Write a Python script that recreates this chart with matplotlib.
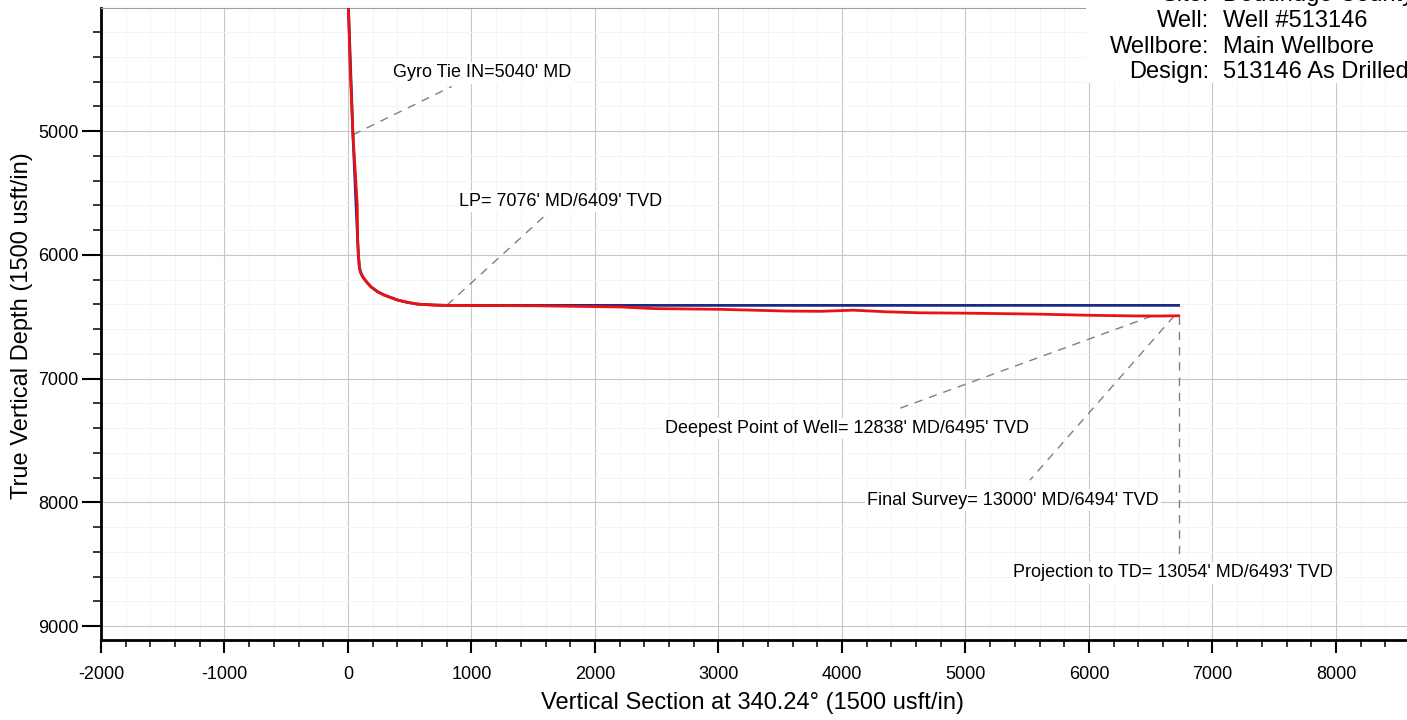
import matplotlib
matplotlib.use('Agg')
import matplotlib.pyplot as plt
from matplotlib.ticker import MultipleLocator
from matplotlib.patches import Rectangle

plt.rcParams['font.family'] = ['Liberation Sans', 'DejaVu Sans']
plt.rcParams['axes.unicode_minus'] = False

# actual well path (red): vertical section vs true vertical depth
vs_actual = [0, 18, 40, 57, 75, 78, 84, 92, 100, 119, 149, 186, 240, 294, 402, 483, 564, 699, 800,
             1500, 2207, 2474, 3015, 3554, 3824, 4091, 4364, 4632, 5010, 5547, 6006, 6357, 6560, 6726]
tvd_actual = [3900, 4500, 5030, 5300, 5600, 5880, 6000, 6097, 6137, 6178, 6218, 6259, 6299, 6326, 6366, 6385, 6399, 6407, 6409,
              6412, 6422, 6435, 6441, 6455, 6457, 6448, 6461, 6469, 6472, 6479, 6489, 6494, 6495, 6493]

# plan (blue)
vs_plan = [0, 40, 78, 84, 92, 100, 119, 149, 186, 240, 294, 402, 483, 564, 699, 800, 6726]
tvd_plan = [3900, 5030, 5880, 6000, 6097, 6137, 6178, 6218, 6259, 6299, 6326, 6366, 6385, 6399, 6406, 6409, 6409]

x_ticks = [-2000, -1000, 0, 1000, 2000, 3000, 4000, 5000, 6000, 7000, 8000]
y_ticks = [5000, 6000, 7000, 8000, 9000]

# annotations: label, point on well, label end of leader, text anchor
notes = [
    ("Gyro Tie IN=5040' MD", (40, 5030), (840, 4640), (364, 4531)),
    ("LP= 7076' MD/6409' TVD", (802, 6407), (1600, 5679), (896, 5571)),
    ("Deepest Point of Well= 12838' MD/6495' TVD", (6510, 6495), (4429, 7255), (2567, 7404)),
    ("Final Survey= 13000' MD/6494' TVD", (6690, 6494), (5522, 7821), (4202, 7983)),
    ("Projection to TD= 13054' MD/6493' TVD", (6726, 6493), (6726, 8470), (5388, 8571)),
]

info_keys = ["Site:", "Well:", "Wellbore:", "Design:"]
info_vals = ["Doddridge County", "Well #513146", "Main Wellbore", "513146 As Drilled"]

W, H = 1407, 720
fig = plt.figure(figsize=(W / 100, H / 100), dpi=100)
ax = fig.add_axes([101 / W, 80 / H, 1306 / W, 632 / H])

ax.plot(vs_plan, tvd_plan, color='#1c2a86', linewidth=2, zorder=3)
ax.plot(vs_actual, tvd_actual, color='#ee1111', linewidth=2, zorder=4)

for label, pt, end, txt in notes:
    ax.plot([pt[0], end[0]], [pt[1], end[1]], color='#808080', linewidth=1,
            dashes=(6, 5), zorder=2)
    ax.text(txt[0], txt[1], label, fontsize=13, ha='left', va='center', zorder=5,
            bbox=dict(facecolor='white', edgecolor='none', pad=1.5))

ax.set_xlim(-2000, 8575)
ax.set_ylim(9113, 4006)
ax.set_xticks(x_ticks)
ax.set_yticks(y_ticks)
ax.xaxis.set_minor_locator(MultipleLocator(200))
ax.yaxis.set_minor_locator(MultipleLocator(200))

ax.grid(which='major', color='#c6c6c6', linewidth=0.8, zorder=0)
ax.grid(which='minor', color='#f2f2f2', linewidth=0.6, zorder=0)
ax.set_axisbelow(True)

ax.tick_params(axis='x', which='major', direction='out', length=9.5, width=1.5, pad=9, labelsize=13)
ax.tick_params(axis='x', which='minor', direction='out', length=5, width=1.1)
ax.tick_params(axis='y', which='major', direction='out', length=14, width=1.5, pad=2, labelsize=13)
ax.tick_params(axis='y', which='minor', direction='out', length=6, width=1.1)

ax.spines['right'].set_visible(False)
ax.spines['top'].set_color('#a0a0a0')
ax.spines['top'].set_linewidth(0.8)
ax.spines['left'].set_linewidth(2)
ax.spines['bottom'].set_linewidth(2)

ax.set_xlabel('Vertical Section at 340.24° (1500 usft/in)', fontsize=17)
ax.set_ylabel('True Vertical Depth (1500 usft/in)', fontsize=17)
ax.xaxis.set_label_coords(0.499, -0.0997)
ax.xaxis.label.set_va('center')
ax.yaxis.set_label_coords(-0.0605, 0.497)
ax.yaxis.label.set_va('center')

# info block in the top right corner (top row is cut by the page edge, as in the scan)
fig.patches.append(Rectangle((1086 / W, 1 - 83 / H), 1, 83 / H, transform=fig.transFigure,
                             facecolor='white', edgecolor='none', zorder=5))
rows_y = [-4.8, 20.7, 46.7, 71.7]
for key, val, yy in zip(info_keys, info_vals, rows_y):
    fig.text(1209 / W, 1 - yy / H, key, fontsize=17, ha='right', va='center', zorder=6)
    fig.text(1223 / W, 1 - yy / H, val, fontsize=17, ha='left', va='center', zorder=6)

fig.savefig('out.png', dpi=100, facecolor='white')
